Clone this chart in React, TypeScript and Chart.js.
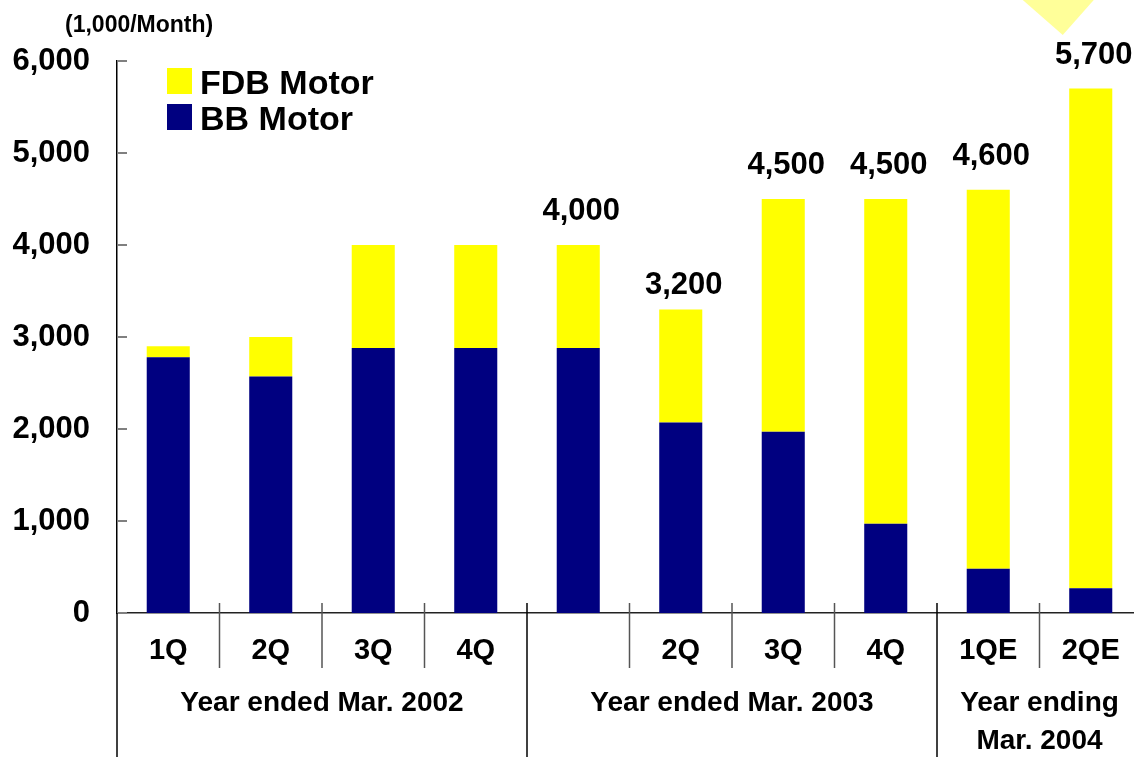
import { useEffect, useRef } from "react";
import { Chart, registerables } from "chart.js";

Chart.register(...registerables);

const FONT = '"Liberation Sans", Arial, Helvetica, sans-serif';

const categories = ["1Q", "2Q", "3Q", "4Q", "", "2Q", "3Q", "4Q", "1QE", "2QE"];
const bbMotor = [2780, 2570, 2880, 2880, 2880, 2070, 1970, 970, 480, 270];
const fdbMotor = [120, 430, 1120, 1120, 1120, 1230, 2530, 3530, 4120, 5430];
const totalLabels: (number | null)[] = [null, null, null, null, 4000, 3200, 4500, 4500, 4600, 5700];
const groupLabels: string[][] = [
  ["Year ended Mar. 2002"],
  ["Year ended Mar. 2003"],
  ["Year ending", "Mar. 2004"],
];
const groupSpans = [4, 4, 2];
const seriesNames = ["BB Motor", "FDB Motor"];
const seriesColors = ["#000080", "#FFFF00"];
const unitLabel = "(1,000/Month)";

const fmt = (v: number) => v.toLocaleString("en-US");

const decorPlugin = {
  id: "decor",
  afterDraw(chart: any) {
    const { ctx, chartArea, scales } = chart;
    const x = scales.x;
    const y = scales.y;
    const n = categories.length;
    const cw = (x.right - x.left) / n;
    const bottom = chart.height;
    const axisY = chartArea.bottom;
    const boundary = (i: number) => x.getPixelForValue(i) - cw / 2;

    ctx.save();

    // inner tick marks on y axis
    ctx.strokeStyle = "#808080";
    ctx.lineWidth = 2;
    y.ticks.forEach((t: any) => {
      const py = Math.round(y.getPixelForValue(t.value));
      ctx.beginPath();
      ctx.moveTo(chartArea.left, py);
      ctx.lineTo(chartArea.left + 10, py);
      ctx.stroke();
    });

    // left axis extension below
    ctx.strokeStyle = "#000";
    ctx.lineWidth = 1.5;
    ctx.beginPath();
    ctx.moveTo(chartArea.left, axisY);
    ctx.lineTo(chartArea.left, bottom);
    ctx.stroke();

    // separators
    const groupStarts: number[] = [];
    let acc = 0;
    groupSpans.forEach((s) => {
      groupStarts.push(acc);
      acc += s;
    });
    for (let i = 1; i < n; i++) {
      const bx = boundary(i);
      const isGroup = groupStarts.includes(i);
      ctx.strokeStyle = isGroup ? "#000" : "#555";
      ctx.lineWidth = 1.5;
      ctx.beginPath();
      ctx.moveTo(bx, axisY - 10);
      ctx.lineTo(bx, isGroup ? bottom : axisY + 55);
      ctx.stroke();
    }

    // group labels
    ctx.fillStyle = "#000";
    ctx.font = `bold 28px ${FONT}`;
    ctx.textAlign = "center";
    ctx.textBaseline = "alphabetic";
    groupLabels.forEach((lines, gi) => {
      const start = groupStarts[gi];
      const end = start + groupSpans[gi];
      const cx = (boundary(start) + boundary(start) + cw * (end - start)) / 2;
      lines.forEach((ln, li) => {
        ctx.fillText(ln, cx, axisY + 98 + li * 38);
      });
    });

    // total labels
    ctx.font = `bold 31px ${FONT}`;
    totalLabels.forEach((v, i) => {
      if (v == null) return;
      const px = x.getPixelForValue(i) + 3;
      const py = y.getPixelForValue(v) - 25;
      ctx.fillText(fmt(v), px, py);
    });

    // decorative pointer triangle at top
    const tx = x.getPixelForValue(n - 1) - 28;
    ctx.fillStyle = "#FFFF99";
    ctx.beginPath();
    ctx.moveTo(tx - 40, 0);
    ctx.lineTo(tx + 31, 0);
    ctx.lineTo(tx, 35);
    ctx.closePath();
    ctx.fill();

    // unit label
    ctx.fillStyle = "#000";
    ctx.textAlign = "left";
    ctx.font = `bold 23px ${FONT}`;
    ctx.fillText(unitLabel, 65, 32);

    // legend (top series first)
    const ds = chart.data.datasets.slice().reverse();
    ctx.font = `bold 34px ${FONT}`;
    ds.forEach((d: any, i: number) => {
      const top = 68 + i * 36;
      ctx.fillStyle = d.backgroundColor;
      ctx.fillRect(167, top, 25, 26);
      ctx.fillStyle = "#000";
      ctx.fillText(d.label, 200, top + 26);
    });

    ctx.restore();
  },
};

export default function App() {
  const ref = useRef<HTMLCanvasElement | null>(null);

  useEffect(() => {
    if (!ref.current) return;
    const chart = new Chart(ref.current, {
      type: "bar",
      data: {
        labels: categories,
        datasets: [
          { label: seriesNames[0], data: bbMotor, backgroundColor: seriesColors[0], borderWidth: 0 },
          { label: seriesNames[1], data: fdbMotor, backgroundColor: seriesColors[1], borderWidth: 0 },
        ],
      },
      options: {
        responsive: false,
        animation: false,
        devicePixelRatio: 1,
        layout: { padding: { top: 61, left: 0, right: 8, bottom: 0 } },
        datasets: { bar: { categoryPercentage: 1, barPercentage: 0.42 } },
        plugins: {
          legend: { display: false },
          tooltip: { enabled: false },
          title: { display: false },
        },
        scales: {
          x: {
            stacked: true,
            grid: { display: false, drawTicks: false },
            border: { display: true, color: "#222", width: 1.5 },
            ticks: {
              color: "#000",
              font: { family: FONT, size: 29, weight: "bold" },
              padding: 21,
              maxRotation: 0,
              autoSkip: false,
            },
            afterFit: (s: any) => {
              s.height = 144;
            },
          },
          y: {
            stacked: true,
            min: 0,
            max: 6000,
            grid: { display: false, drawTicks: false },
            border: { display: true, color: "#000", width: 1.5 },
            ticks: {
              stepSize: 1000,
              color: "#000",
              font: { family: FONT, size: 31, weight: "bold" },
              padding: 27,
              callback: (v: any) => fmt(Number(v)),
            },
            afterFit: (s: any) => {
              s.width = 117;
            },
          },
        },
      },
      plugins: [decorPlugin],
    });
    return () => chart.destroy();
  }, []);

  return (
    <div
      style={{
        position: "fixed",
        left: 0,
        top: 0,
        width: 1134,
        height: 757,
        overflow: "hidden",
        background: "#fff",
      }}
    >
      <canvas ref={ref} width={1150} height={757} style={{ display: "block" }} />
    </div>
  );
}
